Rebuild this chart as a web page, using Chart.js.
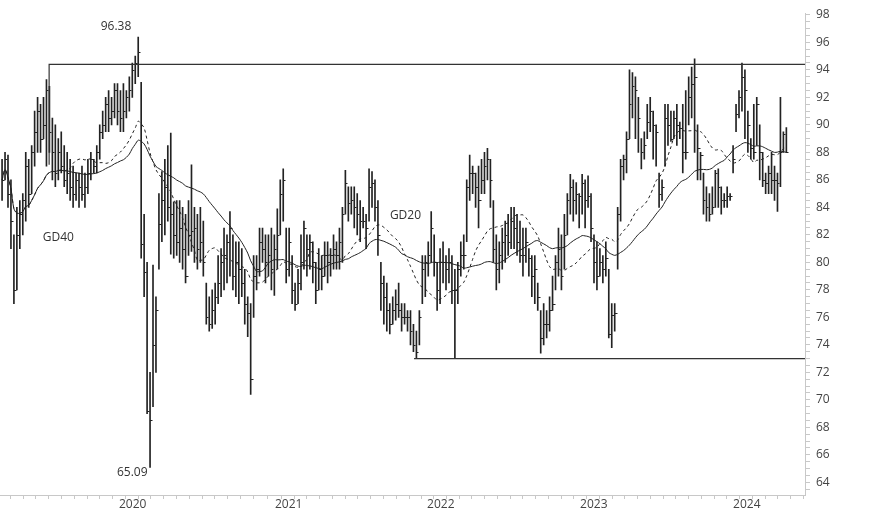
<!DOCTYPE html>
<html><head><meta charset="utf-8">
<script src="https://cdn.jsdelivr.net/npm/chart.js@4.4.1/dist/chart.umd.min.js"></script>
<style>html,body{margin:0;padding:0;background:#fff}#w{width:874px;height:515px}</style>
</head><body><div id="w"><canvas id="c"></canvas></div>
<script>
// weekly bars: [high, low, close]
const bars = [
[87.5,84.5,86],[88,86,87.5],[87.8,84,85],[86,81,83],[82,77,78],[84,78,82],[84.5,81,83.5],[85,82,84.5],
[88,83,87],[87.5,84,85],[88.5,85,88],[91,87,89.5],[92,88,91],[91.5,88,89],[92,89,90],[93.3,87,92.5],
[92.8,88,89.5],[90.5,86,88],[90,85.5,86.5],[89,86,88],[89.5,86.5,87],[88.5,85.5,86],[88,85,86.5],[87.5,84.5,85.5],
[87,84,85],[86.5,84.5,86],[86.5,84,85.5],[87,84.5,85],[86.5,84,85.5],[87.5,85,86.5],[88,86,87.5],[87.5,86.5,87],
[88.5,86.5,88],[90,87.5,89.5],[91,89,90],[92,89.5,91.5],[92.5,89.5,90.5],[92,90,91],[93,90.5,92.5],[93,90,91],
[92.5,89.5,90.5],[93,89.5,91],[92.5,90.5,92],[93.5,91,92.5],[94.5,92,94],[95,93,94.5],[96.38,93.5,95.3],[93.1,80.3,81.3],
[83.5,77.5,79.3],[80,69,69.2],[72,65.09,68.5],[79.8,69.5,74],[77.5,72,76.5],[85,79.5,82.8],[86.6,81.5,84.5],[87.5,82,85.5],
[88.5,83,84],[89.4,80.6,83.5],[84.4,80.3,82],[84.5,80.5,81.5],[84.5,80,82.5],[84,79.5,81],[83.5,78.5,79],[84.5,80.5,82],
[87.1,80.8,82.3],[84,80,82.5],[83.5,79.5,81],[84,80,81.5],[83,79,80],[78.5,75.5,76],[77.5,75,75.5],[78,75.2,76.5],
[78.5,75.5,77.5],[80.5,77,78.5],[81,77.5,80],[82.5,78,80.5],[82,78.5,81.5],[83.7,79,82.5],[82,78,79],[81.5,77.5,80],
[81.5,77,79.5],[81,77.5,78.5],[79.5,75.5,77],[77.5,74.6,76.3],[77,70.4,71.5],[80.5,76,79],[80.5,78,79.5],[82.5,79,81.5],
[82.5,80,81],[82,78.5,80],[82,79,80.5],[82.5,78,79.5],[82,77.6,81],[83.9,79.5,82],[86,82,85],[86.8,83,86],
[82.5,78.5,79.5],[82.5,79,81.5],[80.5,77,78],[78.5,76.5,77],[79.5,77,78.5],[82,78,80],[83,79.5,82.5],[82,79,81],
[82,79.5,81.5],[81.5,78.5,80],[80,77,78],[81,78,79.5],[80.5,78,79],[81.5,79,80.5],[81.5,78.5,80],[81,79,80.5],
[82,79.5,81],[81.5,79.5,80.5],[82.5,79.5,81.5],[84,80,83.5],[86.7,83.5,85.8],[85.5,83,84.3],[85.5,83.5,84.5],[85.5,82.5,84],
[85,82,83.5],[84.5,81.5,83],[84,82.5,83],[83.5,81,82.5],[86.8,83,85.5],[86.6,84,85.8],[86,83,84],[84.5,80.5,82],
[80,76.5,78.5],[79,75.5,77.5],[78.5,75,76.5],[77,74.8,75.5],[77.5,75.5,76.5],[78,75.8,77],[78.5,76,76.5],[77,75,76],
[77,75.5,76],[76.5,75,76],[76.5,74,75],[75.5,73.5,74],[75,73,73.5],[76.5,74,76],[80.5,77,79.5],[80.5,77.5,80],
[81.5,79,80.5],[83.7,80,82.5],[82,79,80],[80,76.5,78],[81,77,80],[81.5,78.5,80],[80.5,78,79.5],[81,78.5,80],
[80.5,77,78],[79.5,73,78],[80,77,79.5],[81.5,79,80.5],[82,79.5,80.5],[86,81.5,85.5],[87.8,84.5,86.5],[87,85,86.5],
[86.5,84,85.5],[87,82.5,84.5],[87.5,85,86],[88,85,87],[88.3,86,87.5],[87.5,84,86],[84.5,80,81],[82,78,79.5],
[81.5,78.5,80.5],[82.5,79.5,81.5],[83,80,82],[83.5,80.5,81.5],[84,81,83],[84,81,82.5],[83.5,80.5,81.5],[83,80,80.5],
[82.5,79,80.5],[82.5,80,81.5],[81,79,80.3],[80.5,77.5,79],[80.5,77,79.5],[78.5,76.5,77.5],[76.5,73.4,74.5],[77,74,75.5],
[76.5,74.5,75.5],[77.5,75,76.5],[79,76.5,77],[80.5,78,80],[82.5,79,81],[82,78,79],[83.5,79.5,82],[85,82,84.5],
[86.4,83.5,85.5],[86,83,84.5],[85.8,83.5,85],[85,82.5,84.8],[86.4,83.5,85.8],[86,82.5,84.5],[86.3,84,84.8],[85,81.5,82.5],
[82,78.5,80],[81.5,78,79],[81,79,80],[80.5,78.5,79.5],[81.5,79,80.3],[79.5,74.5,74.8],[77,73.8,76.2],[77,75,76.3],
[84,79.5,83.5],[87.5,83,87],[87.8,86,87.5],[89.5,86.5,89],[94,89,91.5],[93.8,90.5,92.8],[93.5,89,92.5],[92,88,90.5],
[89,86.8,88],[89.5,87.5,88.5],[91.5,89,90.2],[92,89.5,91],[91,87.5,90],[90,87,89.5],[86.5,84,85],[86,84.5,85.5],
[91.5,87,90.5],[91.5,88.5,90],[91,88.8,89],[91,89,90.5],[91.5,88.5,90],[90.2,89,89.8],[91.5,86.5,88],[92.5,87.5,88],
[93.5,90,92],[94.2,90.5,93],[94.8,88,93.5],[90,86,88.3],[88,86,87.8],[86.5,83.5,84.5],[85.5,83,84],[85,83,83.5],
[85.5,83.5,84],[86.7,84,86.5],[86.8,84,85.5],[85.5,83.5,84.5],[85,84,84.5],[85.5,84,84.8],[85,84.5,84.8],[88.5,86.5,87.5],
[91.5,89.5,90.8],[92.5,90.5,92],[94.5,91,93.5],[94,89,92.5],[91,88,90],[89,87.5,88.3],[91.5,87.5,88],[92,88.5,91.5],
[90,86,88],[88,85.5,86],[86.5,85,85.8],[87,85,86.5],[88,85,86],[87,84.5,86],[86.5,83.7,85.8],[92,85.5,88],
[89.5,88,89.3],[89.8,88,88]
];
const highs = bars.map(b=>b[0]), lows = bars.map(b=>b[1]), closes = bars.map(b=>b[2]);
const yearLabels = ['2020','2021','2022','2023','2024'];
const yearIdx = [39.5, 92.2, 143.6, 195.3, 247];
const supportLevel = 73, resistanceLevel = 94.4;
const peakText = '96.38', lowText = '65.09';

function ma(n){ return closes.map((_,i)=>{const s=closes.slice(Math.max(0,i-n+1),i+1);return s.reduce((a,b)=>a+b,0)/s.length;}); }
const gd20 = ma(20), gd40 = ma(40);
const IDX = bars.map((_,i)=>i);

const monthTicks=[];
for(let y=-1;y<yearIdx.length;y++){
  const base = y<0 ? yearIdx[0]-51.8 : yearIdx[y];
  for(let m=0;m<12;m++){ const v=base+m*51.8/12; if(v>-0.7&&v<271) monthTicks.push({value:v,year:(m===0&&y>=0)?yearLabels[y]:''}); }
}

const ink='#222';
const overlay={id:'ov',afterDatasetsDraw(ch){
  const {ctx,scales:{x,y}}=ch; ctx.save();
  ctx.strokeStyle=ink; ctx.lineWidth=1;
  closes.forEach((c,i)=>{const px=Math.round(x.getPixelForValue(i)),py=Math.round(y.getPixelForValue(c))+0.5;ctx.beginPath();ctx.moveTo(px,py);ctx.lineTo(px+2.5,py);ctx.stroke();});
  ctx.lineWidth=1.2; ctx.strokeStyle='#333';
  const r=ch.chartArea.right;
  let px=x.getPixelForValue(15.9), py=y.getPixelForValue(resistanceLevel);
  ctx.beginPath(); ctx.moveTo(px,y.getPixelForValue(87.1)); ctx.lineTo(px,py); ctx.lineTo(r,py); ctx.stroke();
  px=x.getPixelForValue(139.2); py=y.getPixelForValue(supportLevel);
  ctx.beginPath(); ctx.moveTo(px,py); ctx.lineTo(r,py); ctx.stroke();
  ctx.fillStyle='#333'; ctx.font='12px "Open Sans"'; ctx.textAlign='center'; ctx.textBaseline='middle';
  ctx.fillText(peakText,x.getPixelForValue(38.5),y.getPixelForValue(96.38)-11);
  ctx.fillText(lowText,x.getPixelForValue(44),y.getPixelForValue(65.09)+5);
  ctx.fillText('GD40',x.getPixelForValue(19),y.getPixelForValue(81.8));
  ctx.fillText('GD20',x.getPixelForValue(136.3),y.getPixelForValue(83.4));
  ctx.restore();
}};

new Chart(document.getElementById('c'),{
  data:{datasets:[
    {type:'bar',data:IDX.map(i=>({x:i,y:[lows[i],highs[i]]})),backgroundColor:ink,borderWidth:0,barThickness:1,borderSkipped:false},
    {type:'line',data:IDX.map(i=>({x:i,y:gd20[i]})),borderColor:'#222',borderWidth:1,borderDash:[3,3],pointRadius:0,tension:0.3},
    {type:'line',data:IDX.map(i=>({x:i,y:gd40[i]})),borderColor:'#222',borderWidth:1,pointRadius:0,tension:0.3}
  ]},
  options:{responsive:true,maintainAspectRatio:false,animation:false,
    layout:{padding:0},
    plugins:{legend:{display:false},tooltip:{enabled:false}},
    scales:{
      x:{type:'linear',min:-0.7,max:271.3,offset:false,
        afterFit(s){s.height=20;},
        afterBuildTicks(s){s.ticks=monthTicks.map(t=>({value:t.value}));},
        grid:{display:true,drawOnChartArea:false,tickLength:4,color:'#c8c8c8'},
        border:{color:'#c8c8c8'},
        ticks:{autoSkip:false,maxRotation:0,align:'start',padding:-2,color:'#444',font:{family:'Open Sans',size:12},
          callback(v,i){return monthTicks[i]?monthTicks[i].year:'';}}},
      y:{position:'right',min:63.08,max:98.12,
        afterFit(s){s.width=69;},
        afterBuildTicks(s){const t=[];for(let v=63.5;v<=98;v+=0.5)t.push({value:v});s.ticks=t;},
        grid:{display:true,drawOnChartArea:false,tickLength:5,color:'#c8c8c8'},
        border:{color:'#c8c8c8'},
        ticks:{autoSkip:false,padding:6,color:'#444',font:{family:'Open Sans',size:12},
          callback(v){return (Math.abs(v%2)<1e-6)?String(v):'';}}}
    }},
  plugins:[overlay]
});
</script></body></html>
